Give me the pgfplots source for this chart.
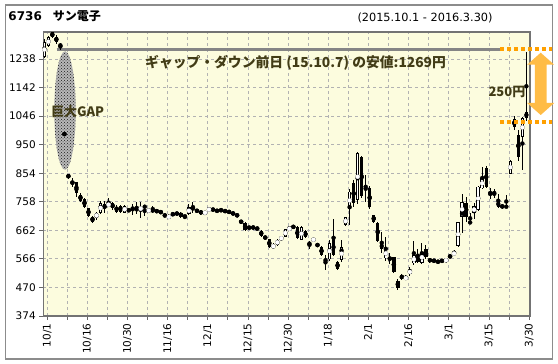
\documentclass[border=0pt]{standalone}
\usepackage{fontspec}
\setmainfont{DejaVu Sans}
\newfontfamily\jp{Noto Sans CJK JP}
\usepackage{pgfplots}
\pgfplotsset{compat=1.18}
\usepackage{pgfplotstable}
\usetikzlibrary{patterns}

\definecolor{bgy}{RGB}{252,252,222}
\definecolor{gridc}{RGB}{178,178,178}
\definecolor{annot}{RGB}{66,60,22}
\definecolor{orng}{RGB}{255,160,0}
\definecolor{arrowc}{RGB}{255,188,70}
\definecolor{framec}{RGB}{140,140,140}

\pgfplotstableread{
i o h l c
0 1244 1305 1240 1296
1 1282 1316 1278 1311
2 1328 1329 1310 1313
3 1313 1318 1290 1296
4 1285 1292 1269 1283
5 986 988 984 985
6 851 853 835 837
7 823 837 809 821
8 823 826 775 789
9 781 787 758 762
10 767 770 736 742
11 736 738 708 711
12 708 710 687 691
13 702 724 698 722
14 722 762 718 753
15 749 762 720 736
16 744 770 740 753
17 753 758 732 736
18 742 748 722 725
19 744 746 722 725
20 722 747 720 744
21 730 734 725 729
22 736 752 714 735
23 732 757 718 733
24 728 757 705 742
25 742 745 710 741
26 725 735 722 732
27 732 745 722 725
28 727 731 722 726
29 728 730 716 719
30 713 717 707 712
31 702 716 699 713
32 717 720 712 716
33 719 722 715 718
34 721 724 704 708
35 710 714 700 709
36 717 752 714 739
37 736 758 722 735
38 728 732 724 727
39 728 731 714 717
40 717 727 714 725
41 728 740 726 736
42 732 735 729 731
43 728 731 725 727
44 730 733 727 729
45 727 730 724 726
46 727 729 719 721
47 719 722 716 718
48 713 716 709 712
49 694 697 685 688
50 688 690 660 663
51 672 676 665 671
52 672 675 668 671
53 669 673 662 668
54 660 662 641 644
55 641 643 632 635
56 632 634 603 607
57 601 618 598 616
58 613 632 610 630
59 630 643 627 641
60 641 667 638 665
61 663 678 660 672
62 674 680 668 673
63 672 675 632 635
64 630 676 628 672
65 661 663 636 638
66 624 627 600 610
67 626 637 624 635
68 613 616 609 612
69 607 610 575 579
70 562 580 529 561
71 564 630 558 620
72 632 699 575 579
73 557 560 528 531
74 562 630 557 605
75 680 708 677 706
76 733 800 680 792
77 820 830 740 753
78 764 925 750 921
79 909 912 770 778
80 809 848 756 808
81 803 810 735 739
82 713 715 688 691
83 688 690 622 627
84 620 655 585 598
85 568 640 560 601
86 571 585 548 564
87 571 573 520 523
88 492 500 463 467
89 506 515 495 505
90 497 512 494 506
91 515 540 510 529
92 551 625 545 579
93 574 600 553 557
94 553 620 550 590
95 598 612 566 571
96 562 570 553 561
97 560 565 555 559
98 560 563 550 553
99 560 563 556 559
100 556 570 553 567
101 575 578 571 574
102 579 597 576 589
103 609 691 605 689
104 708 784 653 758
105 753 773 690 708
106 689 720 685 688
107 719 753 700 744
108 730 812 727 809
109 803 876 800 837
110 873 878 805 809
111 788 803 766 787
112 788 800 770 787
113 760 785 738 741
114 745 750 735 740
115 742 781 737 741
116 853 897 850 895
117 1036 1048 1001 1008
118 982 1000 895 909
119 977 1043 865 1039
120 1061 1263 1030 1039
}\candles

\begin{document}
\begin{tikzpicture}[x=1pt,y=1pt]
\useasboundingbox (0,0) rectangle (558,364);
\fill[white] (0,0) rectangle (558,364);
\draw[framec, line width=1.5pt] (5.5,5) rectangle (552.3,359);

\node[anchor=base west, inner sep=0pt, font=\fontsize{12}{14}\selectfont\bfseries] at (8.3,343.3) {6736\hspace{11pt}{\jp サン電子}};
\node[anchor=base west, inner sep=0pt, font=\fontsize{11.3}{13}\selectfont] at (357.3,342) {(2015.10.1 - 2016.3.30)};

\begin{axis}[
  at={(43.3pt,48pt)}, anchor=south west, scale only axis,
  width=486.7pt, height=284pt,
  xmin=-0.25, xmax=120.9, ymin=374, ymax=1329,
  axis background/.style={fill=bgy},
  ytick={374,470,566,662,758,854,950,1046,1142,1238},
  yticklabels={374,470,566,662,758,854,950,1046,1142,1238},
  xtick={0.7,10.7,20.7,30.7,40.7,50.7,60.7,70.7,80.7,90.7,100.7,110.7,120.7},
  xticklabels={10/1,10/16,10/30,11/16,12/1,12/15,12/30,1/18,2/1,2/16,3/1,3/15,3/30},
  minor xtick={5.7,15.7,25.7,35.7,45.7,55.7,65.7,75.7,85.7,95.7,105.7,115.7},
  grid=both,
  major grid style={gridc, dash pattern=on 3pt off 3pt, line width=0.8pt},
  minor grid style={gridc, dash pattern=on 3pt off 3pt, line width=0.8pt},
  tick align=outside, tick pos=left,
  major tick length=4pt, minor tick length=4pt,
  tick style={black!60, line width=0.8pt},
  axis line style={black!55, line width=1.2pt},
  ticklabel style={font=\fontsize{10.5}{12}\selectfont},
  xticklabel style={rotate=90, anchor=east},
  /pgf/number format/assume math mode=true,
]
% gap ellipse
\fill[black!28] (axis cs:5.15,1065) ellipse [x radius=10.7pt, y radius=59.2pt];
\fill[pattern=crosshatch dots, pattern color=black!90] (axis cs:5.15,1065) ellipse [x radius=10.7pt, y radius=59.2pt];
% low line of 15.10.7
\draw[black!48, line width=3pt] (axis cs:3.05,1269) -- (axis cs:113.4,1269);

% wicks
\addplot[black, only marks, mark=none, forget plot,
  error bars/.cd, y dir=both, y explicit, error mark=none,
  error bar style={line width=1pt, black}]
  table[x=i, y expr={(\thisrow{h}+\thisrow{l})/2}, y error expr={(\thisrow{h}-\thisrow{l})/2}] {\candles};
% bodies (outline / black fill)
\addplot[black, only marks, mark=none, forget plot,
  error bars/.cd, y dir=both, y explicit, error mark=none,
  error bar style={line width=3.4pt, black}]
  table[x=i, y expr={(\thisrow{o}+\thisrow{c})/2}, y error expr={max(abs(\thisrow{o}-\thisrow{c})/2,1.6)}] {\candles};
% white interiors of rising candles (others are sent below the axis and clipped)
\addplot[white, only marks, mark=none, forget plot,
  error bars/.cd, y dir=both, y explicit, error mark=none,
  error bar style={line width=1.6pt, white}]
  table[x=i, y expr={ifthenelse(\thisrow{c}-\thisrow{o}>6,(\thisrow{o}+\thisrow{c})/2,100)}, y error expr={max((\thisrow{c}-\thisrow{o})/2-2.7,1)}] {\candles};
\end{axis}

% orange dotted gap marks and arrow
\draw[orng, line width=4pt, dash pattern=on 4pt off 3pt] (500,314.7) -- (552,314.7);
\draw[orng, line width=4pt, dash pattern=on 4pt off 3pt] (500,242.3) -- (552,242.3);
\fill[arrowc] (540.7,311.3) -- (554.2,299.3) -- (546.5,299.3) -- (546.5,261) -- (554.2,261)
  -- (540.7,249) -- (527.2,261) -- (534.9,261) -- (534.9,299.3) -- (527.2,299.3) -- cycle;

% annotations
\node[anchor=west, inner sep=0pt, text=annot, font=\fontsize{13.8}{15}\selectfont\bfseries\jp] at (145,301.5)
  {ギャップ・ダウン前日 (15.10.7) の安値:1269円};
\node[anchor=west, inner sep=0pt, text=annot, font=\fontsize{13}{15}\selectfont\bfseries\jp] at (488.3,272.3) {250円};
\node[anchor=west, inner sep=0pt, text=annot, font=\fontsize{13}{15}\selectfont\bfseries\jp] at (51,252.3) {巨大GAP};
\end{tikzpicture}
\end{document}
